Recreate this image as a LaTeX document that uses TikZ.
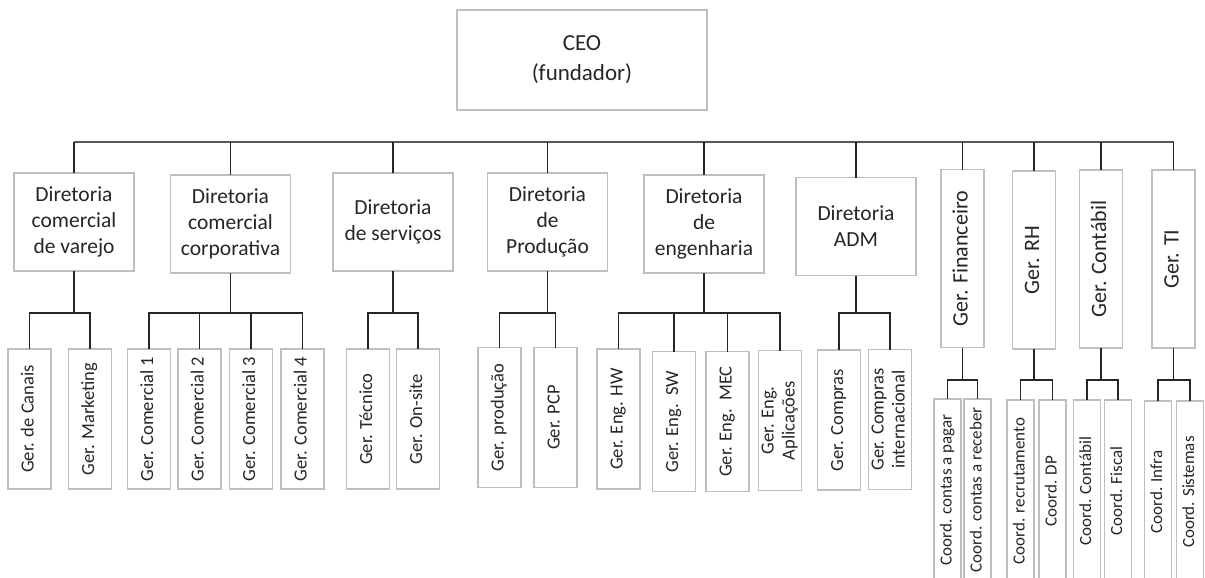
\documentclass[tikz,border=0pt]{standalone}
\usepackage{fontspec}
\setmainfont{Carlito}
\usepackage{graphicx}

\definecolor{boxgray}{RGB}{191,191,191}
\definecolor{txtgray}{RGB}{38,38,38}
\newcommand{\vlab}[1]{\rotatebox{90}{\begin{tabular}{@{}c@{}}#1\end{tabular}}}

\begin{document}
\begin{tikzpicture}[
    x = 1pt,
    y = -1pt,
    box/.style = {draw=boxgray, line width=1.2pt, fill=white, text=txtgray,
              align=center, inner sep=0pt, outer sep=0pt},
    ceo/.style = {box, minimum width=250pt, minimum height=100pt,
              font=\fontsize{23}{30}\selectfont},
    dir/.style = {box, minimum width=120pt, minimum height=98pt,
              font=\fontsize{21.5}{26}\selectfont},
    ger/.style = {box, minimum width=43pt, minimum height=178pt,
              font=\fontsize{22}{26}\selectfont},
    sub/.style = {box, minimum width=43pt, minimum height=140pt,
              font=\fontsize{18.5}{21}\selectfont},
    crd/.style = {box, minimum width=27pt, minimum height=182pt,
              font=\fontsize{17}{20}\selectfont},
    link/.style = {draw=black!85, line width=1.3pt},
    bar/.style = {draw=black!65, line width=2pt},
    ]

\useasboundingbox (0,0) rectangle (1205,578);
\clip (0,0) rectangle (1205,578);

\coordinate (bus) at (0,142);
\coordinate (sub) at (0,313);
\coordinate (subc) at (0,380);

\node[ceo] (ceo) at (582,60) {CEO\\(fundador)};

% diretorias
\node[dir] (d_1) at (74,222) {Diretoria\\comercial\\de varejo};
\node[dir] (d_2) at (230.5,224) {Diretoria\\comercial\\corporativa};
\node[dir] (d_3) at (393,222) {Diretoria\\de serviços};
\node[dir] (d_4) at (547.5,222) {Diretoria\\de\\Produção};
\node[dir] (d_5) at (704,224) {Diretoria\\de\\engenharia};
\node[dir] (d_6) at (856,226.5) {Diretoria\\ADM};

% gerencias ligadas ao CEO
\node[ger] (g_1) at (962.5,258.5) {\vlab{Ger. Financeiro}};
\node[ger] (g_2) at (1034,260) {\vlab{Ger. RH}};
\node[ger] (g_3) at (1101,259) {\vlab{Ger. Contábil}};
\node[ger] (g_4) at (1173.5,259) {\vlab{Ger. TI}};

% gerencias das diretorias
\node[sub] (s_1_1) at (29.5,419) {\vlab{Ger. de Canais}};
\node[sub] (s_1_2) at (90,419) {\vlab{Ger. Marketing}};
\node[sub] (s_2_1) at (149,419) {\vlab{Ger. Comercial 1}};
\node[sub] (s_2_2) at (199.5,419) {\vlab{Ger. Comercial 2}};
\node[sub] (s_2_3) at (251,419) {\vlab{Ger. Comercial 3}};
\node[sub] (s_2_4) at (302.5,419) {\vlab{Ger. Comercial 4}};
\node[sub] (s_3_1) at (368,419) {\vlab{Ger. Técnico}};
\node[sub] (s_3_2) at (418,419) {\vlab{Ger. On-site}};
\node[sub] (s_4_1) at (499.5,417.5) {\vlab{Ger. produção}};
\node[sub] (s_4_2) at (555.5,417.5) {\vlab{Ger. PCP}};
\node[sub] (s_5_1) at (618.5,419) {\vlab{Ger. Eng. HW}};
\node[sub] (s_5_2) at (674,421.5) {\vlab{Ger. Eng.\ \ SW}};
\node[sub] (s_5_3) at (727.5,421.5) {\vlab{Ger. Eng.\ \ MEC}};
\node[sub] (s_5_4) at (780,420.5) {\vlab{Ger. Eng.\\Aplicações}};
\node[sub] (s_6_1) at (839,420) {\vlab{Ger. Compras}};
\node[sub] (s_6_2) at (890,419.5) {\vlab{Ger. Compras\\internacional}};

% coordenacoes
\node[crd] (c_1_1) at (947.5,490) {\vlab{Coord. contas a pagar}};
\node[crd] (c_1_2) at (977.5,490) {\vlab{Coord. contas a receber}};
\node[crd] (c_2_1) at (1020.5,491) {\vlab{Coord. recrutamento}};
\node[crd] (c_2_2) at (1052.5,491) {\vlab{Coord. DP}};
\node[crd] (c_3_1) at (1087,491) {\vlab{Coord. Contábil}};
\node[crd] (c_3_2) at (1118,491) {\vlab{Coord. Fiscal}};
\node[crd] (c_4_1) at (1158,492) {\vlab{Coord. Infra}};
\node[crd] (c_4_2) at (1190,492) {\vlab{Coord. Sistemas}};

% barramento principal
\draw [bar] (d_1.north |- bus) -- (g_4.north |- bus);
\foreach \n in {d_1,d_2,d_3,d_4,d_5,d_6,g_1,g_2,g_3,g_4}
    \draw [link] (\n.north) -- (\n.north |- bus);

% diretorias -> gerencias
\foreach \p/\a/\b in {d_1/s_1_1/s_1_2, d_2/s_2_1/s_2_4, d_3/s_3_1/s_3_2,
                      d_4/s_4_1/s_4_2, d_5/s_5_1/s_5_4, d_6/s_6_1/s_6_2} {
    \draw [link] (\p.south) -- (\p.south |- sub);
    \draw [link] (\a.north) |- (\b.north |- sub) -- (\b.north);
}
\foreach \n in {s_2_2,s_2_3,s_5_2,s_5_3}
    \draw [link] (\n.north) -- (\n.north |- sub);

% gerencias -> coordenacoes
\foreach \p/\a/\b in {g_1/c_1_1/c_1_2, g_2/c_2_1/c_2_2,
                      g_3/c_3_1/c_3_2, g_4/c_4_1/c_4_2} {
    \draw [link] (\p.south) -- (\p.south |- subc);
    \draw [link] (\a.north) |- (\b.north |- subc) -- (\b.north);
}

\end{tikzpicture}
\end{document}
